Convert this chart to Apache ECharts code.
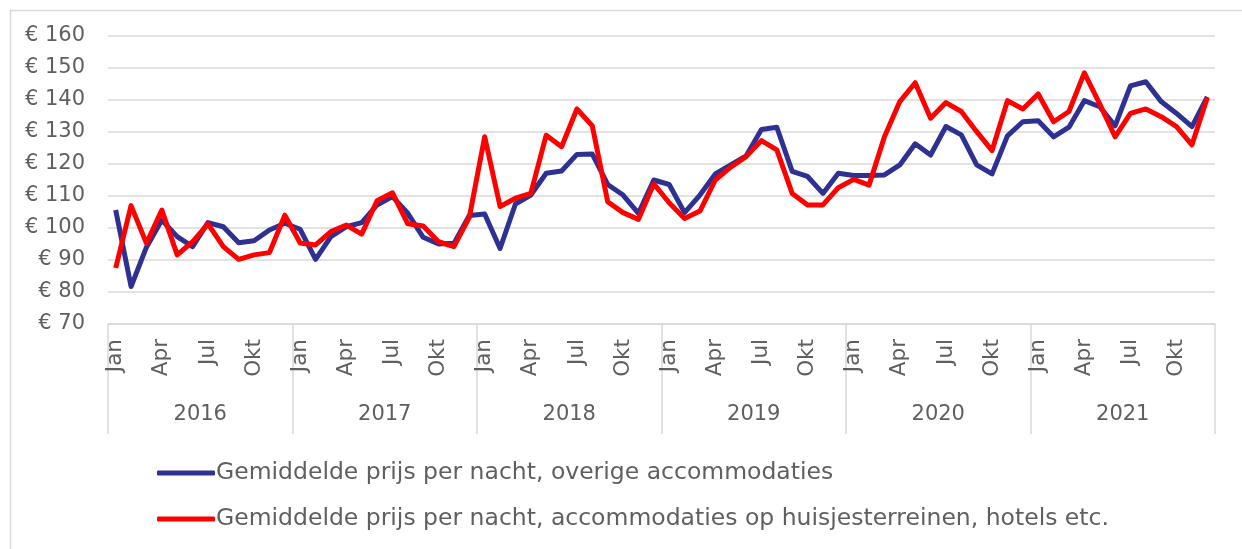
<!DOCTYPE html>
<html>
<head>
<meta charset="utf-8">
<script src="https://cdn.jsdelivr.net/npm/echarts@6/dist/echarts.min.js"></script>
<style>
  html, body { margin: 0; padding: 0; background: #ffffff; }
  #chart { width: 1242px; height: 549px; }
</style>
</head>
<body>
<div id="chart"></div>
<script>
// Month names and years for the two-level category axis
const monthNames = ['Jan', 'Feb', 'Mrt', 'Apr', 'Mei', 'Jun', 'Jul', 'Aug', 'Sep', 'Okt', 'Nov', 'Dec'];
const years = ['2016', '2017', '2018', '2019', '2020', '2021'];

// Average price per night (EUR), other accommodations
const overige = [
  105.6, 81.7, 94.0, 102.5, 97.3, 94.2, 101.7, 100.4, 95.4, 96.0, 99.4, 101.5,
  99.6, 90.2, 97.3, 100.4, 101.7, 107.2, 109.8, 104.6, 97.1, 95.0, 95.2, 103.9,
  104.4, 93.6, 107.5, 110.3, 117.1, 117.8, 123.0, 123.1, 113.6, 110.3, 104.6, 115.0,
  113.6, 104.8, 110.3, 116.9, 119.7, 122.5, 130.8, 131.5, 117.7, 116.1, 110.8, 117.1,
  116.4, 116.4, 116.6, 119.7, 126.3, 122.8, 131.7, 129.1, 119.7, 116.9, 128.8, 133.2,
  133.5, 128.5, 131.5, 139.8, 137.9, 131.9, 144.4, 145.7, 139.5, 135.8, 131.7, 141.0
];

// Average price per night (EUR), holiday parks, hotels etc.
const huisjes = [
  87.5, 107.0, 95.2, 105.6, 91.6, 95.7, 101.3, 94.2, 90.2, 91.6, 92.3, 104.0,
  95.3, 94.7, 98.9, 100.9, 98.1, 108.5, 111.0, 101.3, 100.6, 95.7, 94.2, 103.3,
  128.5, 106.7, 109.3, 110.8, 129.0, 125.4, 137.2, 131.9, 108.2, 104.8, 102.7, 113.8,
  107.9, 103.0, 105.3, 115.0, 119.0, 122.3, 127.3, 124.4, 110.8, 107.2, 107.2, 112.6,
  115.2, 113.4, 128.5, 139.5, 145.4, 134.3, 139.2, 136.4, 130.1, 124.2, 139.8, 137.2,
  141.9, 133.2, 136.4, 148.5, 138.8, 128.5, 135.8, 137.2, 134.8, 131.7, 126.0, 140.7
];

const seriesNames = [
  'Gemiddelde prijs per nacht, overige accommodaties',
  'Gemiddelde prijs per nacht, accommodaties op huisjesterreinen, hotels etc.'
];

const months = [];
years.forEach(() => monthNames.forEach(m => months.push(m)));

const FONT = 'DejaVu Sans';
const TEXT = '#5f5f5f';
const GRID = '#d9d9d9';

const chart = echarts.init(document.getElementById('chart'), null, { renderer: 'canvas' });

chart.setOption({
  animation: false,
  backgroundColor: '#ffffff',
  textStyle: { fontFamily: FONT, color: TEXT },
  graphic: [{
    type: 'rect',
    left: 8, top: 8,
    shape: { width: 1300, height: 600 },
    style: { fill: 'none', stroke: GRID, lineWidth: 1.5 },
    silent: true, z: -1
  }],
  grid: { left: 108, right: 27, top: 36, bottom: 225, containLabel: false },
  legend: {
    orient: 'vertical',
    left: 152, top: 456,
    itemWidth: 58, itemHeight: 5,
    itemGap: 22,
    icon: 'roundRect',
    textStyle: { fontFamily: FONT, fontSize: 23.5, color: TEXT, padding: [0, 0, 0, -4] },
    data: seriesNames
  },
  xAxis: [{
    type: 'category',
    data: months,
    boundaryGap: true,
    axisLine: { show: true, lineStyle: { color: GRID, width: 1.5 } },
    axisTick: { show: false },
    axisLabel: {
      interval: 2, rotate: 90, margin: 15,
      fontFamily: FONT, fontSize: 21.5, color: TEXT
    },
    splitLine: { show: false }
  }, {
    type: 'category',
    data: years,
    position: 'bottom',
    boundaryGap: true,
    axisLine: { show: false },
    axisTick: { show: true, length: 110, alignWithLabel: false, lineStyle: { color: GRID, width: 1.5 } },
    axisLabel: { margin: 80, fontFamily: FONT, fontSize: 21, color: TEXT },
    splitLine: { show: false }
  }],
  yAxis: {
    type: 'value',
    min: 70, max: 160, interval: 10,
    axisLine: { show: false },
    axisTick: { show: false },
    axisLabel: {
      margin: 23, fontFamily: FONT, fontSize: 21, color: TEXT,
      formatter: v => '€ ' + v
    },
    splitLine: { show: true, lineStyle: { color: GRID, width: 1.5 } }
  },
  series: [{
    name: seriesNames[0],
    type: 'line',
    xAxisIndex: 0,
    data: overige,
    symbol: 'none',
    lineStyle: { color: '#2E3192', width: 5, join: 'round' },
    itemStyle: { color: '#2E3192' },
    z: 2
  }, {
    name: seriesNames[1],
    type: 'line',
    xAxisIndex: 0,
    data: huisjes,
    symbol: 'none',
    lineStyle: { color: '#FF0000', width: 5, join: 'round' },
    itemStyle: { color: '#FF0000' },
    z: 3
  }]
});
</script>
</body>
</html>
